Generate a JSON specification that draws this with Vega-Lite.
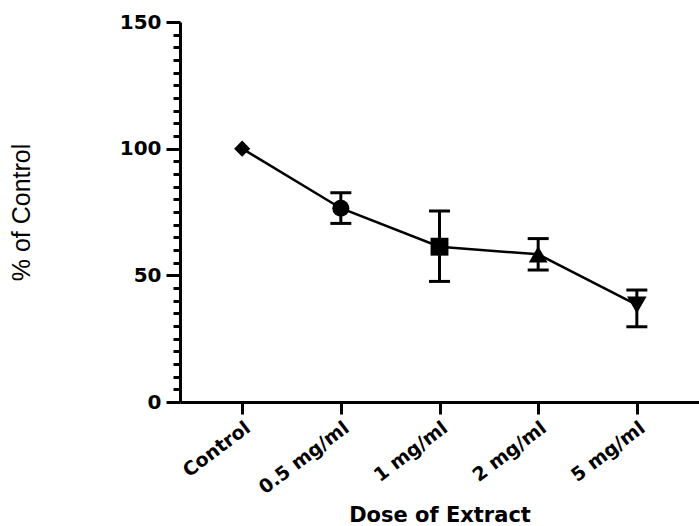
{
  "$schema": "https://vega.github.io/schema/vega-lite/v6.json",
  "width": 519,
  "height": 380,
  "autosize": {"type": "none"},
  "padding": {"left": 180, "top": 22, "right": 0, "bottom": 124},
  "background": "white",
  "config": {
    "view": {"stroke": null},
    "axis": {"domainColor": "black", "domainWidth": 3, "tickColor": "black", "tickWidth": 3, "labelColor": "black", "titleColor": "black", "grid": false}
  },
  "data": {"values": [
    {"dose": "Control", "mean": 100, "lo": null, "hi": null},
    {"dose": "0.5 mg/ml", "mean": 76.5, "lo": 70.5, "hi": 82.6},
    {"dose": "1 mg/ml", "mean": 61.3, "lo": 47.6, "hi": 75.4},
    {"dose": "2 mg/ml", "mean": 58.3, "lo": 52.1, "hi": 64.5},
    {"dose": "5 mg/ml", "mean": 38.3, "lo": 29.7, "hi": 44.2}
  ]},
  "encoding": {
    "x": {
      "field": "dose", "type": "ordinal", "sort": null,
      "scale": {"type": "point", "padding": 0.63},
      "axis": {
        "title": "Dose of Extract", "titleFont": "DejaVu Sans", "titleFontWeight": "bold", "titleFontSize": 21, "titlePadding": 7,
        "labelFont": "DejaVu Sans", "labelFontWeight": "bold", "labelFontSize": 19, "labelAngle": -37, "labelAlign": "right", "labelBaseline": "top", "labelPadding": 4,
        "tickSize": 12
      }
    }
  },
  "layer": [
    {
      "mark": {"type": "line", "color": "black", "strokeWidth": 2.5},
      "encoding": {
        "y": {
          "field": "mean", "type": "quantitative",
          "scale": {"domain": [0, 150], "nice": false},
          "axis": {
            "title": "% of Control", "titleFont": "Liberation Sans", "titleFontWeight": "normal", "titleFontSize": 25, "titlePadding": 85,
            "values": [0,5,10,15,20,25,30,35,40,45,50,55,60,65,70,75,80,85,90,95,100,105,110,115,120,125,130,135,140,145,150],
            "labelExpr": "datum.value % 50 === 0 ? datum.label : ''",
            "labelOverlap": false,
            "labelFont": "DejaVu Sans", "labelFontWeight": "bold", "labelFontSize": 20, "labelPadding": 5,
            "tickSize": {"condition": {"test": "datum.value % 50 === 0", "value": 14}, "value": 7}
          }
        }
      }
    },
    {
      "transform": [{"filter": "isValid(datum.lo)"}],
      "mark": {"type": "rule", "color": "black", "strokeWidth": 3},
      "encoding": {
        "y": {"field": "lo", "type": "quantitative",
          "scale": {"domain": [0, 150], "nice": false},
          "axis": {
            "title": "% of Control", "titleFont": "Liberation Sans", "titleFontWeight": "normal", "titleFontSize": 25, "titlePadding": 85,
            "values": [0,5,10,15,20,25,30,35,40,45,50,55,60,65,70,75,80,85,90,95,100,105,110,115,120,125,130,135,140,145,150],
            "labelExpr": "datum.value % 50 === 0 ? datum.label : ''",
            "labelOverlap": false,
            "labelFont": "DejaVu Sans", "labelFontWeight": "bold", "labelFontSize": 20, "labelPadding": 5,
            "tickSize": {"condition": {"test": "datum.value % 50 === 0", "value": 14}, "value": 7}
          }},
        "y2": {"field": "hi"}
      }
    },
    {
      "transform": [{"filter": "isValid(datum.lo)"}],
      "mark": {"type": "tick", "color": "black", "size": 21, "thickness": 3, "opacity": 1},
      "encoding": {"y": {"field": "lo", "type": "quantitative",
          "scale": {"domain": [0, 150], "nice": false},
          "axis": {
            "title": "% of Control", "titleFont": "Liberation Sans", "titleFontWeight": "normal", "titleFontSize": 25, "titlePadding": 85,
            "values": [0,5,10,15,20,25,30,35,40,45,50,55,60,65,70,75,80,85,90,95,100,105,110,115,120,125,130,135,140,145,150],
            "labelExpr": "datum.value % 50 === 0 ? datum.label : ''",
            "labelOverlap": false,
            "labelFont": "DejaVu Sans", "labelFontWeight": "bold", "labelFontSize": 20, "labelPadding": 5,
            "tickSize": {"condition": {"test": "datum.value % 50 === 0", "value": 14}, "value": 7}
          }}}
    },
    {
      "transform": [{"filter": "isValid(datum.hi)"}],
      "mark": {"type": "tick", "color": "black", "size": 21, "thickness": 3, "opacity": 1},
      "encoding": {"y": {"field": "hi", "type": "quantitative",
          "scale": {"domain": [0, 150], "nice": false},
          "axis": {
            "title": "% of Control", "titleFont": "Liberation Sans", "titleFontWeight": "normal", "titleFontSize": 25, "titlePadding": 85,
            "values": [0,5,10,15,20,25,30,35,40,45,50,55,60,65,70,75,80,85,90,95,100,105,110,115,120,125,130,135,140,145,150],
            "labelExpr": "datum.value % 50 === 0 ? datum.label : ''",
            "labelOverlap": false,
            "labelFont": "DejaVu Sans", "labelFontWeight": "bold", "labelFontSize": 20, "labelPadding": 5,
            "tickSize": {"condition": {"test": "datum.value % 50 === 0", "value": 14}, "value": 7}
          }}}
    },
    {
      "mark": {"type": "point", "filled": true, "color": "black", "opacity": 1},
      "encoding": {
        "y": {"field": "mean", "type": "quantitative",
          "scale": {"domain": [0, 150], "nice": false},
          "axis": {
            "title": "% of Control", "titleFont": "Liberation Sans", "titleFontWeight": "normal", "titleFontSize": 25, "titlePadding": 85,
            "values": [0,5,10,15,20,25,30,35,40,45,50,55,60,65,70,75,80,85,90,95,100,105,110,115,120,125,130,135,140,145,150],
            "labelExpr": "datum.value % 50 === 0 ? datum.label : ''",
            "labelOverlap": false,
            "labelFont": "DejaVu Sans", "labelFontWeight": "bold", "labelFontSize": 20, "labelPadding": 5,
            "tickSize": {"condition": {"test": "datum.value % 50 === 0", "value": 14}, "value": 7}
          }},
        "shape": {"field": "dose", "type": "nominal", "legend": null,
          "scale": {"domain": ["Control", "0.5 mg/ml", "1 mg/ml", "2 mg/ml", "5 mg/ml"], "range": ["diamond", "circle", "square", "triangle-up", "triangle-down"]}},
        "size": {"field": "dose", "type": "nominal", "legend": null,
          "scale": {"domain": ["Control", "0.5 mg/ml", "1 mg/ml", "2 mg/ml", "5 mg/ml"], "range": [260, 380, 340, 420, 420]}}
      }
    }
  ]
}
